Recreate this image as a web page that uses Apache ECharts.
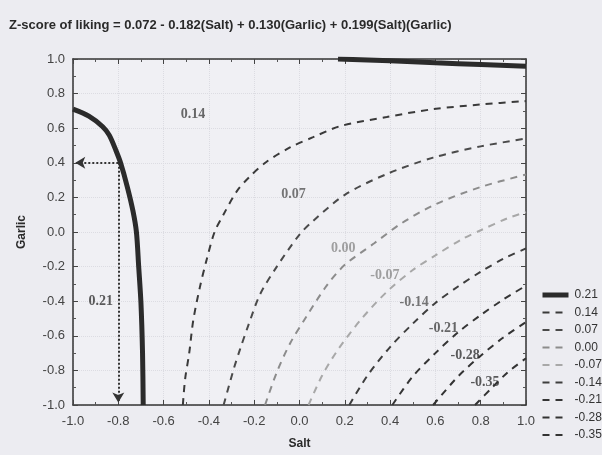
<!DOCTYPE html>
<html>
<head>
<meta charset="utf-8">
<script src="https://cdn.jsdelivr.net/npm/echarts@6/dist/echarts.min.js"></script>
<style>
html, body { margin: 0; padding: 0; background: #ececf1; }
#chart { width: 602px; height: 455px; }
</style>
</head>
<body>
<div id="chart"></div>
<script>
// contour levels, as in the legend
var levels = ['0.21', '0.14', '0.07', '0.00', '-0.07', '-0.14', '-0.21', '-0.28', '-0.35'];

// contour lines, points are [salt, garlic]
var line021a = [[-1.0, 0.71], [-0.93, 0.67], [-0.87, 0.61], [-0.84, 0.56], [-0.81, 0.47], [-0.79, 0.40],
  [-0.76, 0.26], [-0.735, 0.12], [-0.72, 0.0], [-0.71, -0.2], [-0.70, -0.41], [-0.693, -0.7], [-0.69, -1.0]];
var line021b = [[0.17, 1.0], [0.4, 0.99], [0.6, 0.978], [0.8, 0.968], [1.0, 0.958]];
var line014 = [[-0.515, -1.0], [-0.505, -0.85], [-0.487, -0.70], [-0.469, -0.51], [-0.44, -0.32], [-0.41, -0.16],
  [-0.375, 0.0], [-0.336, 0.10], [-0.277, 0.235], [-0.22, 0.32], [-0.145, 0.406], [-0.04, 0.49], [0.06, 0.548],
  [0.18, 0.612], [0.385, 0.665], [0.59, 0.71], [0.8, 0.737], [1.0, 0.757]];
var line007 = [[-0.335, -1.0], [-0.29, -0.79], [-0.263, -0.68], [-0.226, -0.54], [-0.174, -0.36], [-0.1, -0.2],
  [0.0, -0.015], [0.06, 0.064], [0.2, 0.215], [0.385, 0.335], [0.59, 0.43], [0.8, 0.495], [1.0, 0.54]];
var line000 = [[-0.152, -1.0], [-0.1, -0.81], [-0.04, -0.64], [0.03, -0.49], [0.12, -0.31], [0.2, -0.19],
  [0.33, -0.065], [0.45, 0.05], [0.6, 0.16], [0.8, 0.26], [1.0, 0.332]];
var lineM007 = [[0.04, -1.0], [0.1, -0.83], [0.17, -0.68], [0.275, -0.5], [0.39, -0.34], [0.5, -0.22],
  [0.6, -0.135], [0.72, -0.04], [0.8, 0.01], [0.92, 0.08], [1.0, 0.115]];
var lineM014 = [[0.22, -1.0], [0.3, -0.83], [0.4, -0.665], [0.5, -0.53], [0.6, -0.41], [0.7, -0.315],
  [0.8, -0.23], [0.9, -0.155], [1.0, -0.095]];
var lineM021 = [[0.41, -1.0], [0.5, -0.835], [0.6, -0.70], [0.7, -0.58], [0.8, -0.48], [0.9, -0.39], [1.0, -0.31]];
var lineM028 = [[0.59, -1.0], [0.7, -0.835], [0.8, -0.715], [0.9, -0.61], [1.0, -0.52]];
var lineM035 = [[0.775, -1.0], [0.85, -0.90], [0.92, -0.81], [1.0, -0.73]];

// labels written on the contours: [salt, garlic, text]
var levelLabels = [[-0.878, -0.40, '0.21'], [-0.47, 0.68, '0.14'], [-0.027, 0.215, '0.07'], [0.193, -0.094, '0.00'],
  [0.377, -0.25, '-0.07'], [0.506, -0.406, '-0.14'], [0.635, -0.56, '-0.21'], [0.731, -0.715, '-0.28'],
  [0.819, -0.867, '-0.35']];

var guidePoint = [-0.8, 0.4];

var lines = [line021a, line014, line007, line000, lineM007, lineM014, lineM021, lineM028, lineM035];
var lineColors = ['#2b2b2b', '#3a3a3a', '#4a4a4a', '#8c8c8c', '#a8a8a8', '#3e3e3e', '#353535', '#333333', '#333333'];
var labelColors = ['#333333', '#444444', '#555555', '#8a8a8a', '#8a8a8a', '#555555', '#444444', '#333333', '#333333'];

var fmt = function (v) { return (Math.abs(v) < 1e-9 ? 0 : v).toFixed(1); };

var series = [];
lines.forEach(function (pts, i) {
  var thick = i === 0;
  series.push({
    name: levels[i],
    type: 'line',
    data: pts,
    smooth: 0.3,
    symbol: 'none',
    z: thick ? 5 : 3,
    lineStyle: { color: lineColors[i], width: thick ? 5 : 2, type: thick ? 'solid' : [7, 6] },
    itemStyle: { color: lineColors[i] }
  });
});
// the other branch of the 0.21 contour, top right
series.push({
  name: '0.21',
  type: 'line',
  data: line021b,
  smooth: 0.3,
  symbol: 'none',
  z: 5,
  lineStyle: { color: lineColors[0], width: 5 }
});
// contour labels
series.push({
  name: 'labels',
  type: 'scatter',
  data: levelLabels.map(function (d, i) {
    return { value: d, label: { color: labelColors[i] } };
  }),
  symbolSize: 1,
  itemStyle: { color: 'rgba(0,0,0,0)' },
  z: 6,
  label: {
    show: true,
    position: 'inside',
    fontFamily: 'Liberation Serif',
    fontWeight: 'bold',
    fontSize: 14,
    formatter: function (p) { return p.value[2]; }
  }
});
// dotted guide arrows
series.push({
  name: 'guide',
  type: 'line',
  data: [],
  markLine: {
    silent: true,
    symbol: ['none', 'arrow'],
    symbolSize: [9, 10],
    label: { show: false },
    lineStyle: { color: '#333', width: 2, type: 'dotted' },
    data: [
      [{ coord: guidePoint }, { coord: [-0.99, guidePoint[1]] }],
      [{ coord: guidePoint }, { coord: [guidePoint[0], -0.985] }]
    ]
  }
});

var frameAxis = function (extra) {
  return Object.assign({
    type: 'value', min: -1, max: 1, interval: 0.2,
    axisLine: { onZero: false, lineStyle: { color: '#333', width: 1.5 } },
    axisTick: { inside: true, length: 5, lineStyle: { color: '#444' } },
    minorTick: { show: true, splitNumber: 2, length: 3, lineStyle: { color: '#555' } },
    axisLabel: { show: false },
    splitLine: { show: false }
  }, extra);
};

var chart = echarts.init(document.getElementById('chart'));
chart.setOption({
  backgroundColor: '#ececf1',
  animation: false,
  textStyle: { fontFamily: 'Liberation Sans' },
  title: {
    text: 'Z-score of liking = 0.072 - 0.182(Salt) + 0.130(Garlic) + 0.199(Salt)(Garlic)',
    left: 9,
    top: 19,
    padding: 0,
    textStyle: { fontFamily: 'Liberation Sans', fontSize: 13, fontWeight: 'bold', color: '#2a2a2a' }
  },
  legend: {
    data: levels,
    orient: 'vertical',
    left: 540,
    top: 289,
    itemWidth: 26,
    itemHeight: 14,
    itemGap: 5.5,
    padding: 0,
    lineStyle: { width: 'inherit' },
    itemStyle: { color: 'rgba(0,0,0,0)', borderWidth: 0 },
    textStyle: { fontFamily: 'Liberation Sans', fontSize: 12, color: '#333', padding: [0, 0, 0, 1] }
  },
  grid: { left: 73, right: 76, top: 59, bottom: 45, show: true, backgroundColor: '#f0f0f4', borderWidth: 0 },
  xAxis: [frameAxis({
    name: 'Salt', nameLocation: 'middle', nameGap: 33,
    nameTextStyle: { fontFamily: 'Liberation Sans', fontSize: 12, fontWeight: 'bold', color: '#2a2a2a' },
    axisLabel: { formatter: fmt, fontSize: 13, color: '#444', margin: 10 },
    splitLine: { show: true, lineStyle: { color: '#dcdce2', type: 'dotted' } }
  }), frameAxis({ position: 'top' })],
  yAxis: [frameAxis({
    name: 'Garlic', nameLocation: 'middle', nameGap: 45,
    nameTextStyle: { fontFamily: 'Liberation Sans', fontSize: 12, fontWeight: 'bold', color: '#2a2a2a' },
    axisLabel: { formatter: fmt, fontSize: 13, color: '#444', margin: 8 },
    splitLine: { show: true, lineStyle: { color: '#dcdce2', type: 'dotted' } }
  }), frameAxis({ position: 'right' })],
  series: series
});
</script>
</body>
</html>
